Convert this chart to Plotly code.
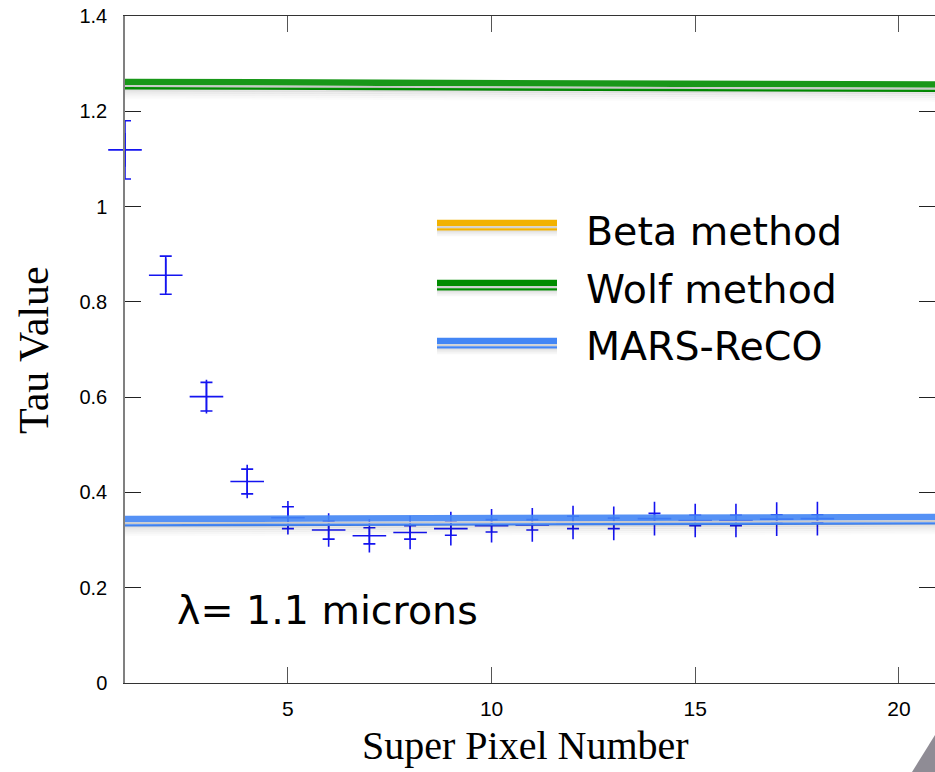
import plotly.graph_objects as go

# ---- data -------------------------------------------------------------
super_pixel = list(range(1, 19))
tau_value = [1.119, 0.856, 0.601, 0.423, 0.347, 0.321, 0.309, 0.316, 0.324,
             0.330, 0.332, 0.337, 0.335, 0.345, 0.341, 0.341, 0.344, 0.345]
tau_error = [0.061, 0.040, 0.030, 0.026, 0.023, 0.019, 0.017, 0.014, 0.014,
             0.013, 0.011, 0.013, 0.011, 0.011, 0.011, 0.011, 0.009, 0.008]

# reference methods: level at the first and last super pixel
method_x = [1, 21]
wolf_level = [1.2616, 1.2560]
mars_level = [0.3442, 0.3484]

method_names = ["Beta method", "Wolf method", "MARS-ReCO"]
method_colors = ["#f2b200", "#008c00", "#4386f5"]

y_ticks = [0, 0.2, 0.4, 0.6, 0.8, 1.0, 1.2, 1.4]
x_ticks = [5, 10, 15, 20]

# ---- geometry ---------------------------------------------------------
W, H = 935, 772
ML, MR, MT, MB = 125, 0, 16, 89
PW, PH = W - ML - MR, H - MT - MB
Y_RANGE = [0, 1.4]
X_RANGE = [1, 1 + PW / 40.73]
PX = (Y_RANGE[1] - Y_RANGE[0]) / PH  # data units per screen pixel


def px_x(p):
    return (p - ML) / PW


def px_y(p):
    return (H - MB - p) / PH


def shifted(levels, pixels):
    return [v - pixels * PX for v in levels]


fig = go.Figure()

# measured points with error bars
fig.add_trace(go.Scatter(
    x=super_pixel, y=tau_value, mode="markers",
    marker=dict(symbol="cross-thin", size=24, color="#1414f0",
                line=dict(width=1.6, color="#1414f0")),
    error_y=dict(type="data", array=tau_error, visible=True,
                 color="#1414f0", thickness=1.6, width=6),
    cliponaxis=False, showlegend=False, hoverinfo="skip",
))


def add_band(levels, color):
    # soft drop shadow under the band
    for off, a in [(8, 0.10), (10, 0.07), (12, 0.05), (14, 0.03), (16, 0.015)]:
        fig.add_trace(go.Scatter(
            x=method_x, y=shifted(levels, off), mode="lines",
            line=dict(color=f"rgba(0,0,0,{a})", width=2.5),
            showlegend=False, hoverinfo="skip", yaxis="y2"))
    fig.add_trace(go.Scatter(
        x=method_x, y=levels, mode="lines", opacity=0.9,
        line=dict(color=color, width=6.5),
        showlegend=False, hoverinfo="skip"))
    fig.add_trace(go.Scatter(
        x=method_x, y=shifted(levels, 4.2), mode="lines",
        line=dict(color="#c9c9c9", width=2),
        showlegend=False, hoverinfo="skip"))
    fig.add_trace(go.Scatter(
        x=method_x, y=shifted(levels, 6.3), mode="lines",
        line=dict(color=color, width=2.3),
        showlegend=False, hoverinfo="skip"))


add_band(wolf_level, method_colors[1])
add_band(mars_level, method_colors[2])

# ---- legend (drawn in paper space) -------------------------------------
shapes = []
annotations = []
sample_rows = [223, 283, 341]
text_rows = [231, 289, 346]
label_font = dict(family="DejaVu Sans", size=39.5, color="black")
for name, color, ys, yt in zip(method_names, method_colors, sample_rows, text_rows):
    x0, x1 = px_x(437), px_x(557)
    for off, a in [(8, 0.10), (10, 0.06), (12, 0.03)]:
        shapes.append(dict(type="line", xref="paper", yref="paper",
                           x0=x0, x1=x1, y0=px_y(ys + off), y1=px_y(ys + off),
                           line=dict(color=f"rgba(0,0,0,{a})", width=2.5)))
    shapes.append(dict(type="line", xref="paper", yref="paper",
                       x0=x0, x1=x1, y0=px_y(ys), y1=px_y(ys),
                       line=dict(color=color, width=6.5)))
    shapes.append(dict(type="line", xref="paper", yref="paper",
                       x0=x0, x1=x1, y0=px_y(ys + 4.2), y1=px_y(ys + 4.2),
                       line=dict(color="#d0d0d0", width=2)))
    shapes.append(dict(type="line", xref="paper", yref="paper",
                       x0=x0, x1=x1, y0=px_y(ys + 6.3), y1=px_y(ys + 6.3),
                       line=dict(color=color, width=2.3)))
    annotations.append(dict(text=name, xref="paper", yref="paper",
                            x=px_x(584), y=px_y(yt), xanchor="left", yanchor="middle",
                            showarrow=False, font=label_font))

# wavelength label
annotations.append(dict(text="λ= 1.1 microns", xref="paper", yref="paper",
                        x=px_x(175), y=px_y(610), xanchor="left", yanchor="middle",
                        showarrow=False, font=label_font))

# axis titles
annotations.append(dict(text="Tau Value", xref="paper", yref="paper",
                        x=px_x(34), y=px_y(350), textangle=-90,
                        xanchor="center", yanchor="middle", showarrow=False,
                        font=dict(family="Liberation Serif", size=42, color="black")))
annotations.append(dict(text="Super Pixel Number", xref="paper", yref="paper",
                        x=px_x(525), y=px_y(745), xanchor="center", yanchor="middle",
                        showarrow=False,
                        font=dict(family="Liberation Serif", size=40, color="black")))

# grey corner of a neighbouring image
shapes.append(dict(type="path", xref="paper", yref="paper", layer="above",
                   path=f"M {px_x(935)},{px_y(735)} L {px_x(912)},{px_y(772)} "
                        f"L {px_x(935)},{px_y(772)} Z",
                   fillcolor="#8f8c95", line=dict(width=0)))

y_tick_font = dict(family="Liberation Sans", size=20, color="black")
x_tick_font = dict(family="Liberation Sans", size=21, color="black")

fig.update_layout(
    width=W, height=H, autosize=False,
    margin=dict(l=ML, r=MR, t=MT, b=MB, pad=0),
    paper_bgcolor="white", plot_bgcolor="white",
    showlegend=False,
    shapes=shapes, annotations=annotations,
    xaxis=dict(range=X_RANGE, tickvals=x_ticks, ticks="inside", ticklen=16,
               tickcolor="#555", tickwidth=1.2, showline=True, mirror="ticks",
               linecolor="#333", linewidth=1.3, showgrid=False, zeroline=False,
               tickfont=x_tick_font, ticklabelstandoff=7),
    yaxis=dict(range=Y_RANGE, tickvals=y_ticks, ticks="inside", ticklen=16,
               tickcolor="#222", tickwidth=1.2, showline=True, mirror=False,
               linecolor="#808080", linewidth=1.5, showgrid=False, zeroline=False,
               tickfont=y_tick_font, ticklabelstandoff=12),
    yaxis2=dict(range=Y_RANGE, overlaying="y", side="right", tickvals=y_ticks,
                ticks="inside", ticklen=16, tickcolor="#222", tickwidth=1.2,
                showticklabels=False, showline=False, showgrid=False,
                zeroline=False),
)

fig.write_html("out.html")
